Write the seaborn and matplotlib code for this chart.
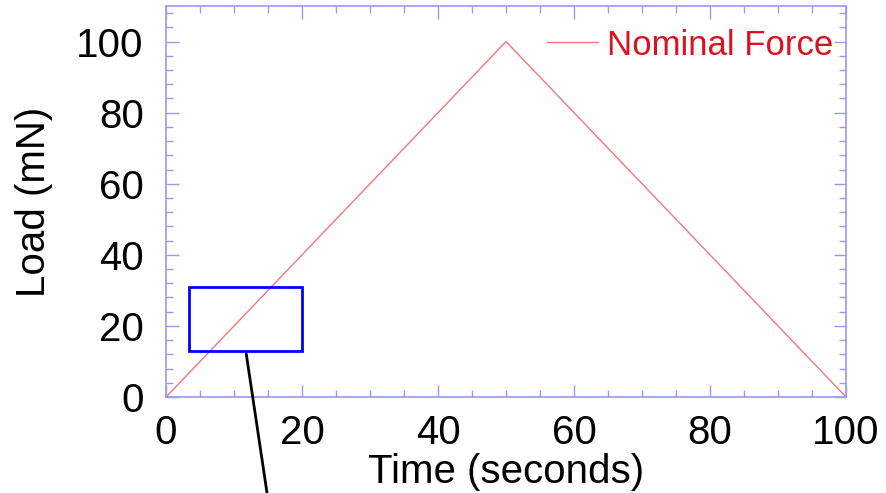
import matplotlib
matplotlib.use("Agg")
import matplotlib.pyplot as plt
import seaborn as sns
import pandas as pd
from matplotlib.patches import Rectangle
from matplotlib.lines import Line2D

time_s = [0, 50, 100]
load_mN = [0, 100, 0]
series = ["Nominal Force"] * 3
xticks = [0, 20, 40, 60, 80, 100]
yticks = [0, 20, 40, 60, 80, 100]

sns.set_theme(style="white")
plt.rcParams['font.family'] = ['Liberation Sans', 'DejaVu Sans']

df = pd.DataFrame({"Time": time_s, "Load": load_mN, "Series": series})

fig = plt.figure(figsize=(8.86, 4.93), dpi=100)
ax = fig.add_axes([0.1874, 0.1947, 0.9549 - 0.1874, 0.9878 - 0.1947])

line_c = "#f07878"
sns.lineplot(data=df, x="Time", y="Load", hue="Series", palette=[line_c],
             linewidth=1.0, ax=ax, legend=False)

ax.set_xlim(0, 100)
ax.set_ylim(0, 110)
ax.set_xticks(xticks)
ax.set_yticks(yticks)
ax.set_xticks(range(0, 101, 5), minor=True)
ax.set_yticks(range(0, 111, 4), minor=True)

spine_c = "#9a9af0"
for s in ax.spines.values():
    s.set_color(spine_c)
    s.set_linewidth(1.2)
ax.tick_params(which="both", direction="in", top=True, right=True,
               bottom=True, left=True, color=spine_c, width=1.0)
ax.tick_params(which="major", length=9, labelsize=29, labelcolor="black")
ax.tick_params(axis="x", which="major", pad=12)
ax.tick_params(axis="y", which="major", pad=16)
ax.tick_params(which="minor", length=5)

ax.set_xlabel("Time (seconds)", fontsize=29, labelpad=1, color="black")
ax.set_ylabel("Load (mN)", fontsize=29, labelpad=17, color="black")

h = Line2D([], [], color=line_c, linewidth=1.0)
leg = ax.legend([h], ["Nominal Force"], loc="center right", frameon=False,
                fontsize=25, handlelength=1.47, handletextpad=0.26,
                borderaxespad=0, borderpad=0,
                bbox_to_anchor=(0.981, 0.90))
for t in leg.get_texts():
    t.set_color("#dd1122")

ax.add_patch(Rectangle((3.4, 13), 16.6, 18, fill=False, edgecolor="#0000ff",
                       linewidth=2.0, zorder=5))
ax.add_line(Line2D([11.8, 14.85], [12.1, -27], color="black", linewidth=2.0,
                   clip_on=False, zorder=6))

fig.savefig("out.png", dpi=100)
